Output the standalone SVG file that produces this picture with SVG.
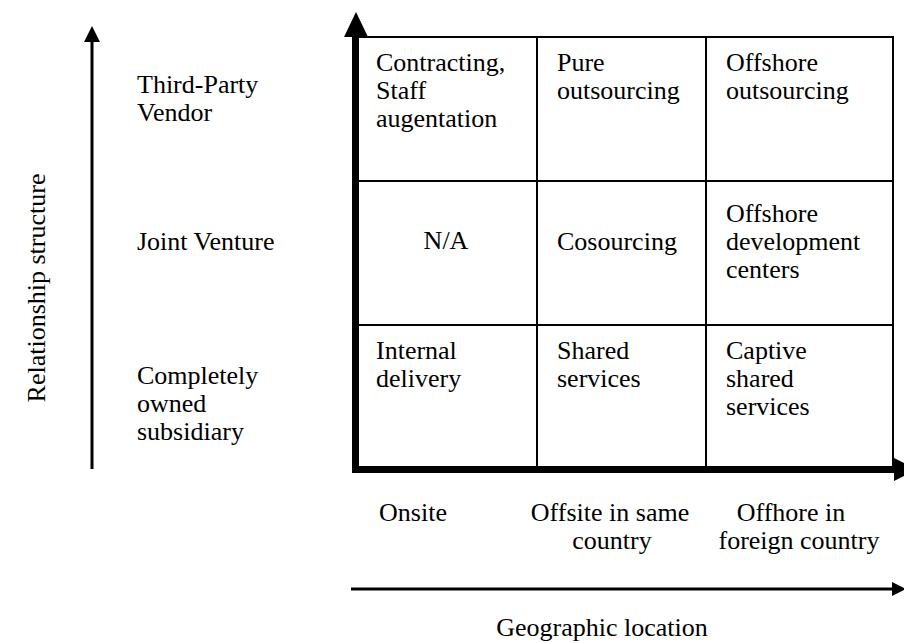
<svg xmlns="http://www.w3.org/2000/svg" width="904" height="643" viewBox="0 0 904 643">
  <style>
    text { font-family: "Liberation Serif", "Times New Roman", serif; font-size: 26px; fill: #000; }
    .mid { text-anchor: middle; }
    .grid { stroke: #000; stroke-width: 2; fill: none; }
    .axis { stroke: #000; stroke-width: 7; fill: none; }
    .thin { stroke: #000; stroke-width: 3; fill: none; }
  </style>
  <rect width="904" height="643" fill="#fff"/>

  <!-- matrix grid lines -->
  <g id="grid">
    <rect class="grid" x="355" y="37" width="538" height="433"/>
    <line class="grid" x1="537" y1="37" x2="537" y2="470"/>
    <line class="grid" x1="706" y1="37" x2="706" y2="470"/>
    <line class="grid" x1="355" y1="181" x2="893" y2="181"/>
    <line class="grid" x1="355" y1="325" x2="893" y2="325"/>
  </g>

  <!-- axes and arrows -->
  <g id="connectors">
    <line class="axis" x1="355.5" y1="473" x2="355.5" y2="34"/>
    <polygon points="344,37 368,37 356,12"/>
    <line class="axis" x1="352" y1="469.5" x2="896" y2="469.5"/>
    <polygon points="894,458 894,481 917,469.5"/>
    <line class="thin" x1="92" y1="469" x2="92" y2="40"/>
    <polygon points="84,42 100,42 92,26"/>
    <line class="thin" x1="351" y1="589" x2="894" y2="589"/>
    <polygon points="892,582 892,596 906,589"/>
  </g>

  <!-- axis titles -->
  <g id="y-title">
    <text class="mid" transform="translate(45,288) rotate(-90)">Relationship structure</text>
  </g>
  <g id="x-title">
    <text class="mid" x="602" y="636">Geographic location</text>
  </g>

  <!-- row labels -->
  <g id="row-vendor">
    <text x="137" y="93">Third-Party</text>
    <text x="137" y="121">Vendor</text>
  </g>
  <g id="row-jv">
    <text x="137" y="250">Joint Venture</text>
  </g>
  <g id="row-owned">
    <text x="137" y="384">Completely</text>
    <text x="137" y="412">owned</text>
    <text x="137" y="440">subsidiary</text>
  </g>

  <!-- column labels -->
  <g id="col-onsite">
    <text class="mid" x="413" y="521">Onsite</text>
  </g>
  <g id="col-offsite">
    <text class="mid" x="610" y="521">Offsite in same</text>
    <text class="mid" x="612" y="549">country</text>
  </g>
  <g id="col-offshore">
    <text class="mid" x="791" y="521">Offhore in</text>
    <text class="mid" x="799" y="549">foreign country</text>
  </g>

  <!-- cells -->
  <g id="cell-contracting">
    <text x="376" y="71">Contracting,</text>
    <text x="376" y="99">Staff</text>
    <text x="376" y="127">augentation</text>
  </g>
  <g id="cell-pure">
    <text x="557" y="71">Pure</text>
    <text x="557" y="99">outsourcing</text>
  </g>
  <g id="cell-offshore-outsourcing">
    <text x="726" y="71">Offshore</text>
    <text x="726" y="99">outsourcing</text>
  </g>
  <g id="cell-na">
    <text class="mid" x="446" y="249">N/A</text>
  </g>
  <g id="cell-cosourcing">
    <text x="557" y="250">Cosourcing</text>
  </g>
  <g id="cell-odc">
    <text x="726" y="222">Offshore</text>
    <text x="726" y="250">development</text>
    <text x="726" y="278">centers</text>
  </g>
  <g id="cell-internal">
    <text x="376" y="359">Internal</text>
    <text x="376" y="387">delivery</text>
  </g>
  <g id="cell-shared">
    <text x="557" y="359">Shared</text>
    <text x="557" y="387">services</text>
  </g>
  <g id="cell-captive">
    <text x="726" y="359">Captive</text>
    <text x="726" y="387">shared</text>
    <text x="726" y="415">services</text>
  </g>
</svg>
